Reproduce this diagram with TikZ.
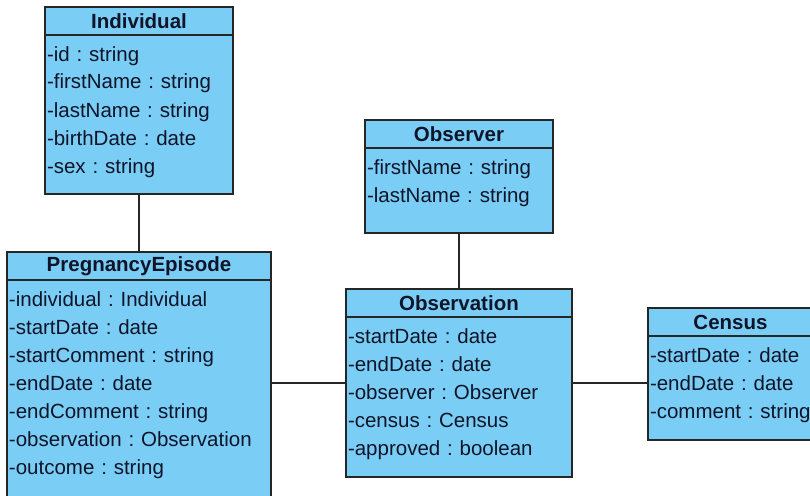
\documentclass[tikz,border=0pt]{standalone}
\usepackage{fontspec}
\setmainfont{Liberation Sans}
\usetikzlibrary{positioning}
\definecolor{classblue}{RGB}{122,206,245}
\definecolor{classtext}{RGB}{16,20,40}
\frenchspacing

\begin{document}
\begin{tikzpicture}[x=1pt, y=-1pt, node distance=0pt]
\tikzstyle{classname} = [draw=black!85, fill=classblue, line width=1.2pt, outer sep=0pt, anchor=north west, minimum height=28pt, inner sep=0pt, text=classtext, font=\fontsize{20.5}{24}\bfseries\selectfont]
\tikzstyle{attrs} = [draw=black!85, fill=classblue, line width=1.2pt, outer sep=0pt, inner xsep=2pt, inner ysep=0pt, text height=26pt, align=left, text=classtext, font=\fontsize{20.5}{28}\selectfont]
\tikzstyle{connect} = [line width=1.2pt, black!85]
\useasboundingbox (0,0) rectangle (810,495);
  \node[classname, minimum width=188pt] (ind) at (45,7) {Individual};
  \node[attrs, below=of ind, text width=184pt, text depth=133pt] (indattr) {-id : string\\-firstName : string\\-lastName : string\\-birthDate : date\\-sex : string};
  \node[classname, minimum width=264pt] (preg) at (7,252) {PregnancyEpisode};
  \node[attrs, below=of preg, text width=260pt, text depth=194pt] (pregattr) {-individual : Individual\\-startDate : date\\-startComment : string\\-endDate : date\\-endComment : string\\-observation : Observation\\-outcome : string};
  \node[classname, minimum width=188pt] (obsr) at (365,120) {Observer};
  \node[attrs, below=of obsr, text width=184pt, text depth=59pt] (obsrattr) {-firstName : string\\-lastName : string};
  \node[classname, minimum width=226pt] (obs) at (346,289) {Observation};
  \node[attrs, below=of obs, text width=222pt, text depth=134pt] (obsattr) {-startDate : date\\-endDate : date\\-observer : Observer\\-census : Census\\-approved : boolean};
  \node[classname, minimum width=165pt] (cens) at (648,308) {Census};
  \node[attrs, below=of cens, text width=161pt, text depth=78pt] (censattr) {-startDate : date\\-endDate : date\\-comment : string};
\draw[connect] (indattr) -- (preg);
\draw[connect] (obsrattr) -- (obs);
\draw[connect] ([yshift=14pt]obsattr.west) -- ([yshift=14pt]obsattr.west -| pregattr.east);
\draw[connect] ([yshift=14pt]obsattr.east) -- ([yshift=14pt]obsattr.east -| censattr.west);
\end{tikzpicture}
\end{document}
